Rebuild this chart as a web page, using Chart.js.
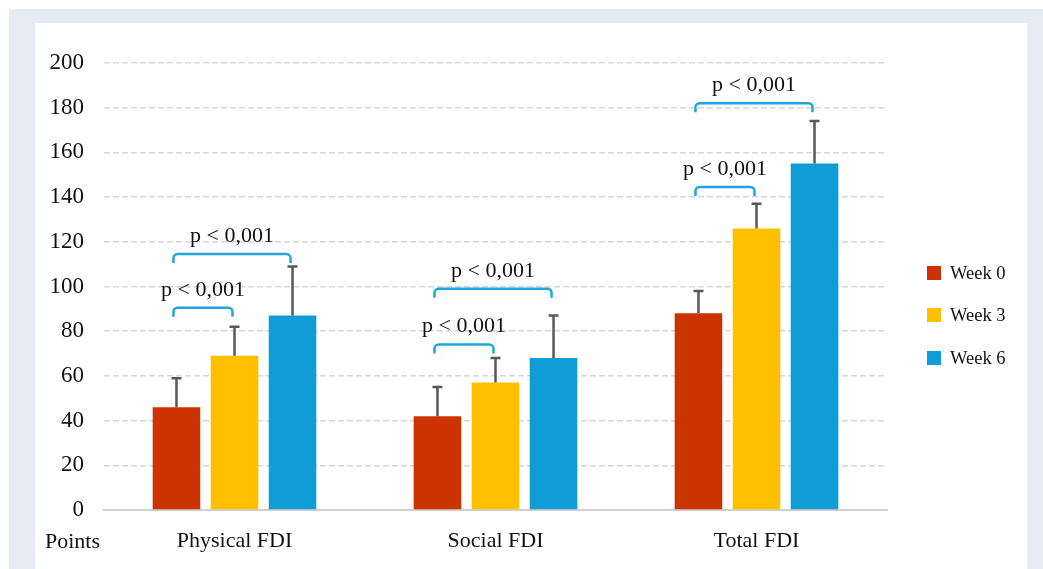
<!DOCTYPE html>
<html>
<head>
<meta charset="utf-8">
<title>Fatigue scores by week</title>
<script src="https://cdn.jsdelivr.net/npm/chart.js@4.4.1/dist/chart.umd.min.js"></script>
<style>
  html, body { margin: 0; padding: 0; background: #ffffff; }
  body { width: 1043px; height: 569px; position: relative; overflow: hidden; }
  #frame { position: absolute; left: 9px; top: 9px; width: 1034px; height: 560px; background: #e6ebf6; }
  #panel { position: absolute; left: 35px; top: 23px; width: 992px; height: 546px; background: #ffffff; }
  #chart { position: absolute; left: 0; top: 0; }
</style>
</head>
<body>
<div id="frame"></div>
<div id="panel"></div>
<canvas id="chart" width="1043" height="569"></canvas>
<script>
// Categories and series
const categories = ['Physical FDI', 'Social FDI', 'Total FDI'];
const seriesNames = ['Week 0', 'Week 3', 'Week 6'];
const week0 = [46, 42, 88];
const week3 = [69, 57, 126];
const week6 = [87, 68, 155];
// Upper standard deviations drawn as error bars
const week0Sd = [13, 13, 10];
const week3Sd = [13, 11, 11];
const week6Sd = [22, 19, 19];
// Significance brackets: category index, first and last series, bracket height (points)
const bracketCats = [0, 0, 1, 1, 2, 2];
const bracketFrom = [0, 0, 0, 0, 0, 0];
const bracketTo = [1, 2, 1, 2, 1, 2];
const bracketLevel = [90.5, 114.5, 74, 99, 144.5, 182];
const bracketText = ['p < 0,001', 'p < 0,001', 'p < 0,001', 'p < 0,001', 'p < 0,001', 'p < 0,001'];
const yTicks = [0, 20, 40, 60, 80, 100, 120, 140, 160, 180, 200];
const axisLabel = 'Points';

const colors = ['#cc3300', '#ffc000', '#109dd5'];
const serif = '"Liberation Serif", "Times New Roman", serif';
const ink = '#111111';

const values = [week0, week3, week6];
const sds = [week0Sd, week3Sd, week6Sd];

const extras = {
  id: 'extras',
  afterDatasetsDraw(chart) {
    const ctx = chart.ctx;
    const y = chart.scales.y;
    ctx.save();
    // error bars
    ctx.strokeStyle = '#595959';
    ctx.lineWidth = 2.5;
    values.forEach((arr, ds) => {
      const meta = chart.getDatasetMeta(ds);
      arr.forEach((v, i) => {
        const bar = meta.data[i];
        const yTop = y.getPixelForValue(v + sds[ds][i]);
        ctx.beginPath();
        ctx.moveTo(bar.x, bar.y);
        ctx.lineTo(bar.x, yTop);
        ctx.moveTo(bar.x - 5, yTop);
        ctx.lineTo(bar.x + 5, yTop);
        ctx.stroke();
      });
    });
    // brackets
    ctx.strokeStyle = '#1ea5e0';
    ctx.lineWidth = 2.5;
    ctx.lineJoin = 'round';
    ctx.fillStyle = ink;
    ctx.font = '22px ' + serif;
    ctx.textAlign = 'center';
    ctx.textBaseline = 'middle';
    bracketCats.forEach((c, k) => {
      const x1 = chart.getDatasetMeta(bracketFrom[k]).data[c].x - 3;
      const x2 = chart.getDatasetMeta(bracketTo[k]).data[c].x - 2;
      const yh = y.getPixelForValue(bracketLevel[k]);
      const yl = yh + 9;
      const r = 4;
      ctx.beginPath();
      ctx.moveTo(x1, yl);
      ctx.lineTo(x1, yh + r);
      ctx.arcTo(x1, yh, x1 + r, yh, r);
      ctx.lineTo(x2 - r, yh);
      ctx.arcTo(x2, yh, x2, yh + r, r);
      ctx.lineTo(x2, yl);
      ctx.stroke();
      ctx.fillText(bracketText[k], (x1 + x2) / 2, yh - 18);
    });
    // axis caption under the value labels
    ctx.textAlign = 'left';
    ctx.font = '22px ' + serif;
    ctx.fillText(axisLabel, 45, 542);
    // legend
    ctx.font = '18.5px ' + serif;
    const rowY = [273, 315, 358];
    seriesNames.forEach((name, i) => {
      ctx.fillStyle = colors[i];
      ctx.fillRect(927, rowY[i] - 7, 14, 14);
      ctx.fillStyle = ink;
      ctx.fillText(name, 950, rowY[i] + 1);
    });
    ctx.restore();
  }
};

new Chart(document.getElementById('chart'), {
  type: 'bar',
  data: {
    labels: categories,
    datasets: seriesNames.map((name, i) => ({
      label: name,
      data: values[i],
      backgroundColor: colors[i],
      borderWidth: 0,
      categoryPercentage: 0.667,
      barPercentage: 0.82
    }))
  },
  options: {
    responsive: false,
    animation: false,
    devicePixelRatio: 1,
    layout: { padding: { top: 63, right: 156, bottom: 0, left: 0 } },
    plugins: { legend: { display: false }, tooltip: { enabled: false } },
    scales: {
      x: {
        grid: { display: false, drawTicks: false },
        border: { display: true, color: '#d0d0d0', width: 2 },
        ticks: { color: ink, font: { family: serif, size: 22 }, padding: 18 },
        afterFit(scale) { scale.height = 59; }
      },
      y: {
        min: 0,
        max: 200,
        afterBuildTicks(scale) { scale.ticks = yTicks.map(v => ({ value: v })); },
        grid: {
          drawTicks: false,
          lineWidth: 1.5,
          color: ctx => (ctx.tick && ctx.tick.value === 0) ? 'rgba(0,0,0,0)' : '#d6d6d6'
        },
        border: { display: false, dash: [6, 3] },
        ticks: { color: ink, font: { family: serif, size: 23 }, padding: 20 },
        afterFit(scale) { scale.width = 104; }
      }
    }
  },
  plugins: [extras]
});
</script>
</body>
</html>
